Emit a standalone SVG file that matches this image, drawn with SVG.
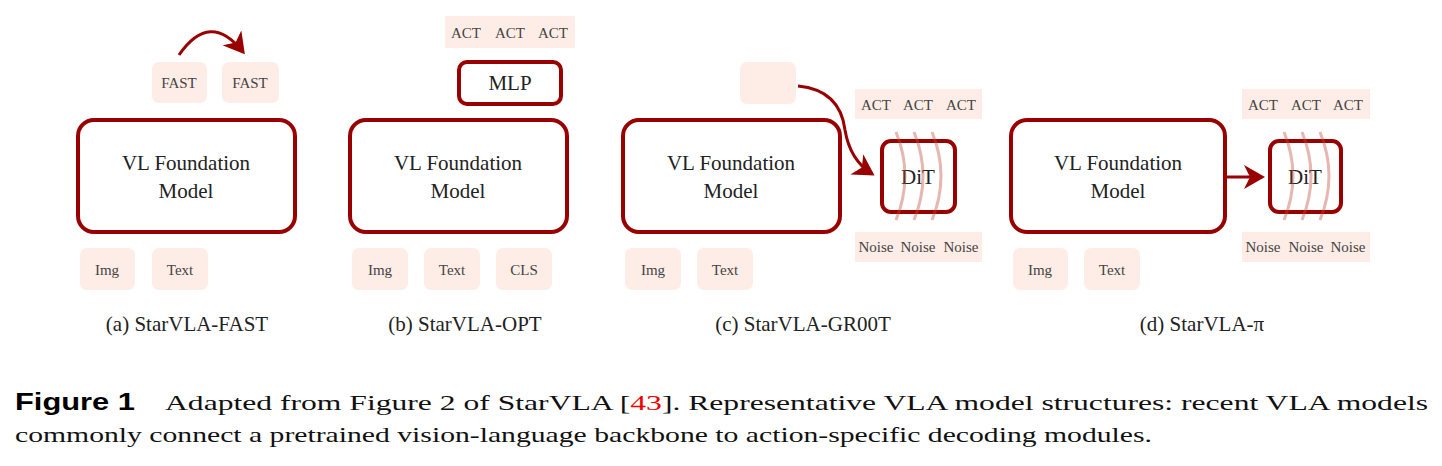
<svg xmlns="http://www.w3.org/2000/svg" width="1442" height="466" viewBox="0 0 1442 466">
<style>
.vl{fill:#fff;stroke:#990000;stroke-width:4}
.tag{fill:#fdede6}
.t{font-family:"Liberation Serif","Times New Roman","DejaVu Serif",serif;fill:#222;text-anchor:middle}
.s{font-size:15px;fill:#444}
.b{font-size:21px}
.c{font-size:21px}
.ar{fill:none;stroke:#990000;stroke-width:3}
.coil{fill:none;stroke:#c0483a;stroke-opacity:0.4;stroke-width:3}
.cap{font-family:"Liberation Serif","Times New Roman","DejaVu Serif",serif;font-size:22px;fill:#111}
.fig{font-family:"Liberation Sans","DejaVu Sans",sans-serif;font-weight:bold;font-size:23px}
</style>
<defs><marker id="ah" markerWidth="8" markerHeight="8" refX="6" refY="4" orient="auto" markerUnits="strokeWidth"><path d="M0,0 L7,4 L0,8 L2,4 z" fill="#990000"/></marker></defs>
<rect width="1442" height="466" fill="#fff"/>
<g id="a">
<rect class="vl" x="78" y="120" width="217" height="112" rx="16"/>
<text class="t b" x="186" y="170">VL Foundation</text><text class="t b" x="186" y="198">Model</text>
<rect class="tag" x="152" y="62" width="55" height="41" rx="7"/><text class="t s" x="179" y="88">FAST</text>
<rect class="tag" x="222" y="62" width="57" height="41" rx="7"/><text class="t s" x="250" y="88">FAST</text>
<rect class="tag" x="80" y="248" width="55" height="42" rx="7"/><text class="t s" x="107" y="275">Img</text>
<rect class="tag" x="152" y="248" width="56" height="42" rx="7"/><text class="t s" x="180" y="275">Text</text>
<text class="t c" x="187" y="331">(a) StarVLA-FAST</text>
</g>
<g id="b">
<rect class="vl" x="350" y="120" width="217" height="112" rx="16"/>
<text class="t b" x="458" y="170">VL Foundation</text><text class="t b" x="458" y="198">Model</text>
<rect class="tag" x="445" y="16" width="130" height="32"/>
<text class="t s" y="38"><tspan x="466">ACT</tspan><tspan x="510">ACT</tspan><tspan x="553">ACT</tspan></text>
<rect class="vl" x="459" y="62" width="102" height="42" rx="8"/><text class="t b" x="510" y="90">MLP</text>
<rect class="tag" x="352" y="248" width="56" height="42" rx="7"/><text class="t s" x="380" y="275">Img</text>
<rect class="tag" x="424" y="248" width="56" height="42" rx="7"/><text class="t s" x="452" y="275">Text</text>
<rect class="tag" x="496" y="248" width="56" height="42" rx="7"/><text class="t s" x="524" y="275">CLS</text>
<text class="t c" x="465" y="331">(b) StarVLA-OPT</text>
</g>
<g id="c">
<rect class="vl" x="623" y="120" width="217" height="112" rx="16"/>
<text class="t b" x="731" y="170">VL Foundation</text><text class="t b" x="731" y="198">Model</text>
<rect class="tag" x="740" y="62" width="56" height="42" rx="7"/>
<rect class="tag" x="855" y="89" width="127" height="30"/>
<text class="t s" y="110"><tspan x="876">ACT</tspan><tspan x="918">ACT</tspan><tspan x="961">ACT</tspan></text>
<rect class="vl" x="882" y="141" width="73" height="71" rx="9"/><text class="t b" x="918" y="184">DiT</text>
<path class="coil" d="M896,132 Q914,176 896,220 M914,132 Q932,176 914,220 M932,132 Q950,176 932,220"/>
<rect class="tag" x="855" y="232" width="127" height="30"/>
<text class="t s" y="252"><tspan x="876">Noise</tspan><tspan x="918">Noise</tspan><tspan x="961">Noise</tspan></text>
<rect class="tag" x="625" y="248" width="56" height="42" rx="7"/><text class="t s" x="653" y="275">Img</text>
<rect class="tag" x="697" y="248" width="56" height="42" rx="7"/><text class="t s" x="725" y="275">Text</text>
<text class="t c" x="803" y="331">(c) StarVLA-GR00T</text>
</g>
<g id="d">
<rect class="vl" x="1011" y="120" width="214" height="112" rx="16"/>
<text class="t b" x="1118" y="170">VL Foundation</text><text class="t b" x="1118" y="198">Model</text>
<rect class="tag" x="1242" y="89" width="128" height="30"/>
<text class="t s" y="110"><tspan x="1263">ACT</tspan><tspan x="1306">ACT</tspan><tspan x="1348">ACT</tspan></text>
<rect class="vl" x="1270" y="141" width="71" height="71" rx="9"/><text class="t b" x="1305" y="184">DiT</text>
<path class="coil" d="M1284,132 Q1302,176 1284,220 M1302,132 Q1320,176 1302,220 M1320,132 Q1338,176 1320,220"/>
<rect class="tag" x="1242" y="232" width="128" height="30"/>
<text class="t s" y="252"><tspan x="1263">Noise</tspan><tspan x="1306">Noise</tspan><tspan x="1348">Noise</tspan></text>
<rect class="tag" x="1013" y="248" width="55" height="42" rx="7"/><text class="t s" x="1040" y="275">Img</text>
<rect class="tag" x="1084" y="248" width="56" height="42" rx="7"/><text class="t s" x="1112" y="275">Text</text>
<text class="t c" x="1202" y="331">(d) StarVLA-π</text>
</g>
<g id="connectors">
<path class="ar" d="M179,55 Q210,10 243,52" marker-end="url(#ah)"/>
<path class="ar" d="M798,86 Q840,90 845,130 Q850,160 872,174" marker-end="url(#ah)"/>
<path class="ar" d="M1225,177 L1262,177" marker-end="url(#ah)"/>
</g>
<g id="caption">
<text class="fig" x="15" y="410" textLength="120" lengthAdjust="spacingAndGlyphs">Figure 1</text>
<text class="cap" x="165" y="410" textLength="1263" lengthAdjust="spacingAndGlyphs">Adapted from Figure 2 of StarVLA [<tspan fill="#e00">43</tspan>].  Representative VLA model structures:  recent VLA models</text>
<text class="cap" x="15" y="442" textLength="1137" lengthAdjust="spacingAndGlyphs">commonly connect a pretrained vision-language backbone to action-specific decoding modules.</text>
</g>
</svg>
